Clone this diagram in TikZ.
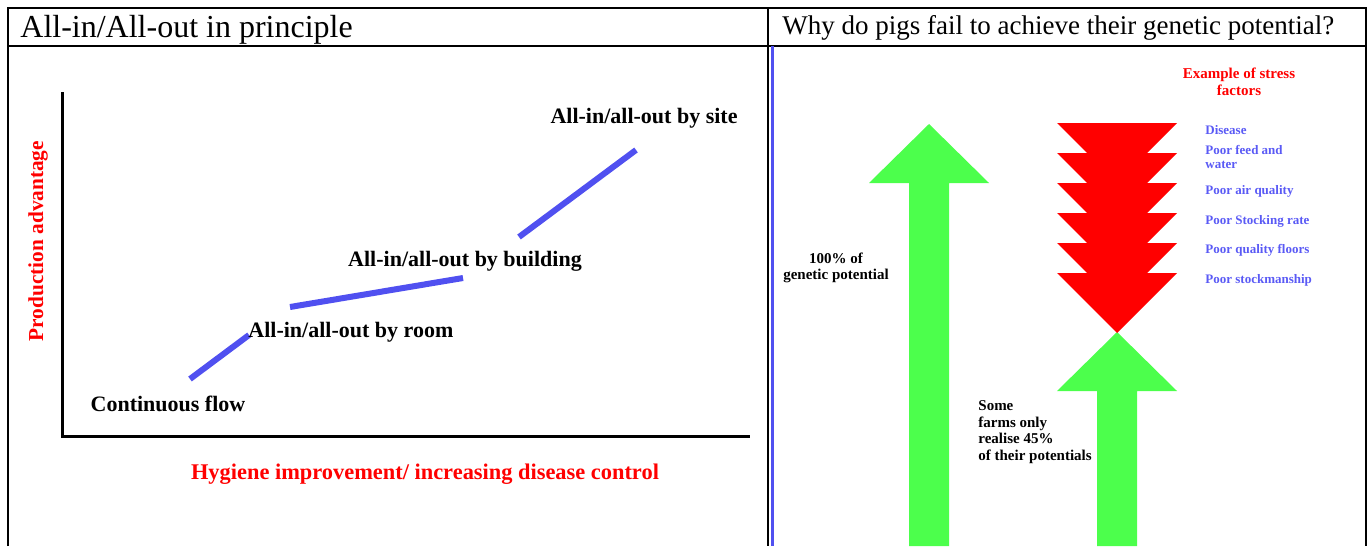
\documentclass[tikz,border=0pt]{standalone}
\usepackage{fontspec}
\setmainfont{Liberation Serif}
\usetikzlibrary{positioning}
\definecolor{lineblue}{RGB}{80,80,240}
\definecolor{labelblue}{RGB}{90,90,245}
\definecolor{arrowgreen}{RGB}{76,255,76}

\begin{document}
\begin{tikzpicture}[x=1pt, y=-1pt, thick,
  lbl/.style={font=\bfseries\fontsize{22}{24}\selectfont, inner sep=0pt},
  axlbl/.style={font=\bfseries\fontsize{22.4}{24}\selectfont, text=red, inner sep=0pt},
  factor/.style={font=\bfseries\fontsize{13}{14}\selectfont, text=labelblue, anchor=west, align=left, inner sep=0pt},
  note/.style={font=\bfseries\fontsize{15}{16.7}\selectfont, inner sep=0pt},
  seg/.style={lineblue, line width=6pt},
  frame/.style={line width=1.5pt}]

\useasboundingbox (0,0) rectangle (1370,546);
% table frame
\draw[frame] (8,546) -- (8,8) -- (1366,8) -- (1366,546);
\draw[frame] (8,46) -- (1366,46);
\draw[frame] (768,8) -- (768,546);
\draw[lineblue, line width=3pt] (772,46) -- (772,546);

\node[anchor=west, inner sep=0pt, font=\fontsize{32}{34}\selectfont] (title1) at (20,30) {All-in/All-out in principle};
\node[anchor=west, inner sep=0pt, font=\fontsize{27}{30}\selectfont] (title2) at (782,28) {Why do pigs fail to achieve their genetic potential?};

% left chart
\draw[line width=3pt] (62,92) -- (62,436) -- (750,436);
\node[axlbl, rotate=90, font=\bfseries\fontsize{21.3}{24}\selectfont] (yaxis) at (38,241) {Production advantage};
\node[axlbl] (xaxis) at (425,474) {Hygiene improvement/ increasing disease control};

\draw[seg] (190,379) -- (249,335);
\draw[seg] (290,307) -- (463,278);
\draw[seg] (519,237) -- (636,150);

\node[lbl] (flow) at (168,404) {Continuous flow};
\node[lbl, anchor=west] (room) at (248,332) {All-in/all-out by room};
\node[lbl] (building) at (465,261) {All-in/all-out by building};
\node[lbl] (site) at (644,118) {All-in/all-out by site};

% right: arrows
\fill[arrowgreen] (909,546) -- (909,183) -- (869,183) -- (929,124) -- (989,183) -- (949,183) -- (949,546) -- cycle;
\fill[arrowgreen] (1097,546) -- (1097,391) -- (1057,391) -- (1117,332) -- (1177,391) -- (1137,391) -- (1137,546) -- cycle;
\foreach \k in {0,...,5}
  \fill[red] ({1057},{123+30*\k}) -- ({1177},{123+30*\k}) -- ({1117},{183+30*\k}) -- cycle;

\node[note, text=red, align=center] (stress) at (1239,82) {Example of stress\\factors};
\node[factor] (disease) at (1205,130) {Disease};
\node[factor] (feed) at (1205,157) {Poor feed and\\water};
\node[factor] (air) at (1205,191) {Poor air quality};
\node[factor] (stocking) at (1205,221) {Poor Stocking rate};
\node[factor] (floors) at (1205,250) {Poor quality floors};
\node[factor] (stockman) at (1205,280) {Poor stockmanship};

\node[note, align=center] (full) at (836,268) {100\% of\\genetic potential};
\node[note, align=left, anchor=west] (some) at (978,432) {Some\\farms only\\realise 45\%\\of their potentials};
\end{tikzpicture}
\end{document}
